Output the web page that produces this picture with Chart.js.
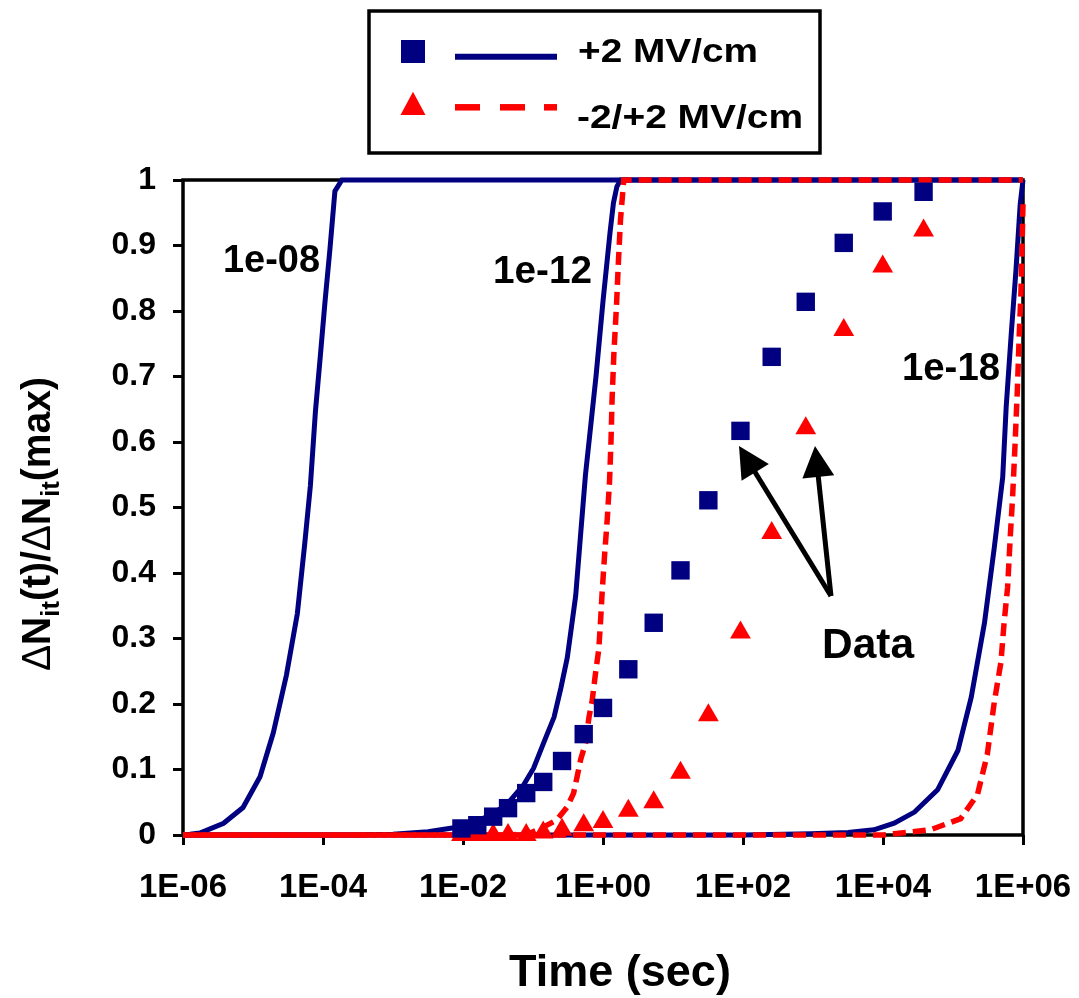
<!DOCTYPE html>
<html><head><meta charset="utf-8">
<script src="https://cdn.jsdelivr.net/npm/chart.js@4.4.1/dist/chart.umd.min.js"></script>
<style>html,body{margin:0;padding:0;background:#fff;} #wrap{width:1079px;height:998px;position:relative;}</style>
</head><body><div id="wrap"><canvas id="c" width="1079" height="998"></canvas></div>
<script>
const FONT = "'Liberation Sans', Arial, Helvetica, sans-serif";
const NAVY = '#000080';
const RED = '#FF0000';

// axis ticks
const xTickValues = [1e-6, 1e-4, 1e-2, 1, 1e2, 1e4, 1e6];
const yTickStep = 0.1;

// measured data (time in s, normalized ΔNit)
const dataTimes   = [0.0095, 0.016, 0.027, 0.044, 0.08, 0.14, 0.26, 0.53, 1.0, 2.3, 5.3, 12.8, 32, 92, 257, 788, 2750, 9900, 38000];
const dataPlus2   = [0.010, 0.015, 0.028, 0.041, 0.064, 0.081, 0.113, 0.154, 0.194, 0.253, 0.324, 0.404, 0.511, 0.617, 0.730, 0.814, 0.904, 0.952, 0.982];
const dataBipolar = [0, 0, 0, 0, 0, 0.004, 0.008, 0.015, 0.020, 0.037, 0.050, 0.095, 0.183, 0.309, 0.461, 0.621, 0.771, 0.868, 0.923];

// model curves, +2 MV/cm (solid)
const model08T = [1e-6, 1.26e-6, 1.74e-6, 3.8e-6, 7.2e-6, 1.26e-5, 1.95e-5, 3.0e-5, 4.3e-5, 5.5e-5, 6.6e-5, 7.8e-5, 9.1e-5, 1.07e-4, 1.26e-4, 1.48e-4, 1.86e-4, 1e6];
const model08Y = [0, 0.001, 0.003, 0.018, 0.042, 0.089, 0.156, 0.244, 0.338, 0.446, 0.533, 0.647, 0.728, 0.815, 0.896, 0.983, 1, 1];
const model12T = [1e-6, 3.16e-4, 1e-3, 3.16e-3, 7.4e-3, 1.41e-2, 2.45e-2, 4.27e-2, 7.4e-2, 0.102, 0.141, 0.2, 0.251, 0.309, 0.407, 0.479, 0.562, 0.676, 0.794, 1.0, 1.26, 1.41, 1.58, 1.78, 1e6];
const model12Y = [0, 0, 0.001, 0.005, 0.011, 0.019, 0.030, 0.047, 0.077, 0.102, 0.140, 0.180, 0.225, 0.271, 0.365, 0.459, 0.550, 0.630, 0.700, 0.815, 0.920, 0.965, 0.990, 1, 1];
const model18T = [1e-6, 100, 933, 3162, 7413, 14450, 28180, 60260, 117500, 182000, 281800, 389000, 512900, 575400, 676100, 794300, 912000, 1e6];
const model18Y = [0, 0, 0.002, 0.004, 0.008, 0.018, 0.035, 0.069, 0.129, 0.210, 0.324, 0.439, 0.546, 0.654, 0.762, 0.863, 0.963, 1];

// model curves, -2/+2 MV/cm (dashed)
const bip12T = [1e-6, 0.05, 0.091, 0.129, 0.219, 0.309, 0.38, 0.427, 0.479, 0.562, 0.631, 0.70, 0.776, 0.871, 0.92, 0.973, 1.05, 1.15, 1.24, 1.30, 1.35, 1.43, 1.56, 1.65, 1.78, 1.98, 1e6];
const bip12Y = [0, 0, 0.003, 0.010, 0.023, 0.043, 0.064, 0.089, 0.115, 0.140, 0.180, 0.205, 0.244, 0.284, 0.324, 0.371, 0.425, 0.482, 0.540, 0.600, 0.667, 0.735, 0.809, 0.869, 0.940, 1, 1];
const bip18T = [1e-6, 1e4, 14450, 47860, 128800, 223900, 309000, 389000, 484200, 537000, 602600, 660700, 707900, 767400, 831800, 883100, 935400, 968300, 1e6];
const bip18Y = [0, 0, 0.002, 0.008, 0.025, 0.062, 0.123, 0.203, 0.264, 0.324, 0.378, 0.459, 0.513, 0.593, 0.681, 0.762, 0.829, 0.896, 0.963];

const legendLabels = ['+2 MV/cm', '-2/+2 MV/cm'];
const curveLabels = ['1e-08', '1e-12', '1e-18'];

const pts = (T, Y) => T.map((t, i) => ({x: t, y: Y[i]}));
const fmtX = v => { const e = Math.round(Math.log10(v)); const a = Math.abs(e); return '1E' + (e < 0 ? '-' : '+') + (a < 10 ? '0' : '') + a; };

function fitText(ctx, text, x, y, font, targetW) {
  ctx.font = font;
  const w = ctx.measureText(text).width;
  ctx.save();
  ctx.translate(x, y);
  ctx.scale(targetW / w, 1);
  ctx.textAlign = 'left';
  ctx.textBaseline = 'alphabetic';
  ctx.fillText(text, 0, 0);
  ctx.restore();
}

function arrow(ctx, x1, y1, x2, y2) {
  const ang = Math.atan2(y2 - y1, x2 - x1);
  const hl = 31, hw = 16;
  const bx = x2 - Math.cos(ang) * hl, by = y2 - Math.sin(ang) * hl;
  ctx.beginPath();
  ctx.moveTo(x1, y1); ctx.lineTo(bx + Math.cos(ang) * 4, by + Math.sin(ang) * 4);
  ctx.lineWidth = 5; ctx.strokeStyle = '#000'; ctx.stroke();
  ctx.beginPath();
  ctx.moveTo(x2, y2);
  ctx.lineTo(bx + Math.sin(ang) * hw, by - Math.cos(ang) * hw);
  ctx.lineTo(bx - Math.sin(ang) * hw, by + Math.cos(ang) * hw);
  ctx.closePath(); ctx.fillStyle = '#000'; ctx.fill();
}

const framePlugin = {
  id: 'frame',
  beforeDatasetsDraw(chart) {
    const {ctx, chartArea: a} = chart;
    ctx.save();
    ctx.strokeStyle = '#000'; ctx.lineWidth = 3.5;
    ctx.strokeRect(a.left, a.top, a.right - a.left, a.bottom - a.top);
    ctx.restore();
  }
};

const annotPlugin = {
  id: 'annot',
  afterDraw(chart) {
    const ctx = chart.ctx;
    ctx.save();
    ctx.fillStyle = '#000';
    // curve labels
    fitText(ctx, curveLabels[0], 223, 272, 'bold 38px ' + FONT, 97);
    fitText(ctx, curveLabels[1], 493, 283, 'bold 38px ' + FONT, 99);
    fitText(ctx, curveLabels[2], 902, 380, 'bold 38px ' + FONT, 98);
    fitText(ctx, 'Data', 822, 658, 'bold 42px ' + FONT, 92);
    arrow(ctx, 831, 596, 739, 446);
    arrow(ctx, 831, 596, 815, 446);

    // legend
    ctx.lineWidth = 3.5; ctx.strokeStyle = '#000';
    ctx.strokeRect(369, 11, 451, 142);
    ctx.fillStyle = NAVY; ctx.fillRect(401, 40, 24, 23);
    ctx.strokeStyle = NAVY; ctx.lineWidth = 6;
    ctx.beginPath(); ctx.moveTo(455, 56.7); ctx.lineTo(557, 56.7); ctx.stroke();
    ctx.fillStyle = RED;
    ctx.beginPath(); ctx.moveTo(413, 91.7); ctx.lineTo(425.5, 115); ctx.lineTo(400.5, 115); ctx.closePath(); ctx.fill();
    ctx.strokeStyle = RED; ctx.lineWidth = 6.5;
    [[455, 480], [500, 525], [544, 557]].forEach(s => { ctx.beginPath(); ctx.moveTo(s[0], 107.3); ctx.lineTo(s[1], 107.3); ctx.stroke(); });
    ctx.fillStyle = '#000';
    fitText(ctx, legendLabels[0], 578, 62, 'bold 34px ' + FONT, 180);
    fitText(ctx, legendLabels[1], 577, 128, 'bold 34px ' + FONT, 226);

    // x title
    ctx.font = 'bold 45px ' + FONT; ctx.textAlign = 'center'; ctx.textBaseline = 'alphabetic';
    ctx.fillText('Time (sec)', 620, 986);

    // y title with subscripts
    ctx.save();
    ctx.translate(50, 524); ctx.rotate(-Math.PI / 2);
    const big = 'bold 40px ' + FONT, small = 'bold 26px ' + FONT, dl = '40px ' + FONT;
    const parts = [['\u0394', dl, 0], ['N', big, 0], ['it', small, 9], ['(t)/', big, 0], ['\u0394', dl, 0], ['N', big, 0], ['it', small, 9], ['(max)', big, 0]];
    let total = 0;
    parts.forEach(p => { ctx.font = p[1]; p.push(ctx.measureText(p[0]).width); total += p[3]; });
    const sx = 294 / total;
    ctx.scale(sx, 1);
    let x = -total / 2;
    ctx.textAlign = 'left';
    parts.forEach(p => { ctx.font = p[1]; ctx.fillText(p[0], x, p[2]); x += p[3]; });
    ctx.restore();
    ctx.restore();
  }
};

const lineDs = (label, T, Y, color, width, dash, offset) => ({
  label, data: pts(T, Y), showLine: true, pointRadius: 0, borderColor: color, backgroundColor: color,
  borderWidth: width, borderDash: dash || [], borderDashOffset: offset || 0, tension: 0, clip: false
});

new Chart(document.getElementById('c'), {
  type: 'scatter',
  data: {
    datasets: [
      {label: legendLabels[0] + ' data', data: pts(dataTimes, dataPlus2), pointStyle: 'rect', pointRadius: 13,
       backgroundColor: NAVY, borderColor: NAVY, borderWidth: 0, showLine: false, clip: false},
      {label: legendLabels[1] + ' data', data: pts(dataTimes, dataBipolar), pointStyle: 'triangle', pointRadius: 12,
       backgroundColor: RED, borderColor: RED, borderWidth: 0, showLine: false, clip: false},
      lineDs('-2/+2 1e-12', bip12T, bip12Y, RED, 5.5, [13, 7], 0),
      lineDs('-2/+2 1e-18', bip18T, bip18Y, RED, 5.5, [13, 7], 10),
      lineDs('+2 1e-08', model08T, model08Y, NAVY, 5),
      lineDs('+2 1e-12', model12T, model12Y, NAVY, 5),
      lineDs('+2 1e-18', model18T, model18Y, NAVY, 5)
    ]
  },
  options: {
    responsive: false,
    animation: false,
    events: [],
    layout: {padding: {left: 0, top: 180, right: 56, bottom: 0}},
    plugins: {legend: {display: false}, tooltip: {enabled: false}, title: {display: false}},
    scales: {
      x: {
        type: 'logarithmic', min: 1e-6, max: 1e6,
        afterBuildTicks: s => { s.ticks = xTickValues.map(v => ({value: v})); },
        afterFit: s => { s.height = 163; s.paddingLeft = 0; s.paddingRight = 0; s.paddingTop = 0; s.paddingBottom = 0; },
        border: {display: false},
        grid: {display: true, drawOnChartArea: false, drawTicks: true, tickLength: 10, tickWidth: 3, tickColor: '#000'},
        ticks: {color: '#000', font: {family: FONT, size: 33, weight: 'bold'}, padding: 23, maxRotation: 0, autoSkip: false,
                callback: v => fmtX(v)}
      },
      y: {
        type: 'linear', min: 0, max: 1,
        afterFit: s => { s.width = 183; s.paddingLeft = 0; s.paddingRight = 0; s.paddingTop = 0; s.paddingBottom = 0; },
        border: {display: false},
        grid: {display: true, drawOnChartArea: false, drawTicks: true, tickLength: 10, tickWidth: 3, tickColor: '#000'},
        ticks: {stepSize: yTickStep, color: '#000', font: {family: FONT, size: 32, weight: 'bold'}, padding: 17,
                callback: v => String(Math.round(v * 10) / 10)}
      }
    }
  },
  plugins: [framePlugin, annotPlugin]
});
</script>
</body></html>
